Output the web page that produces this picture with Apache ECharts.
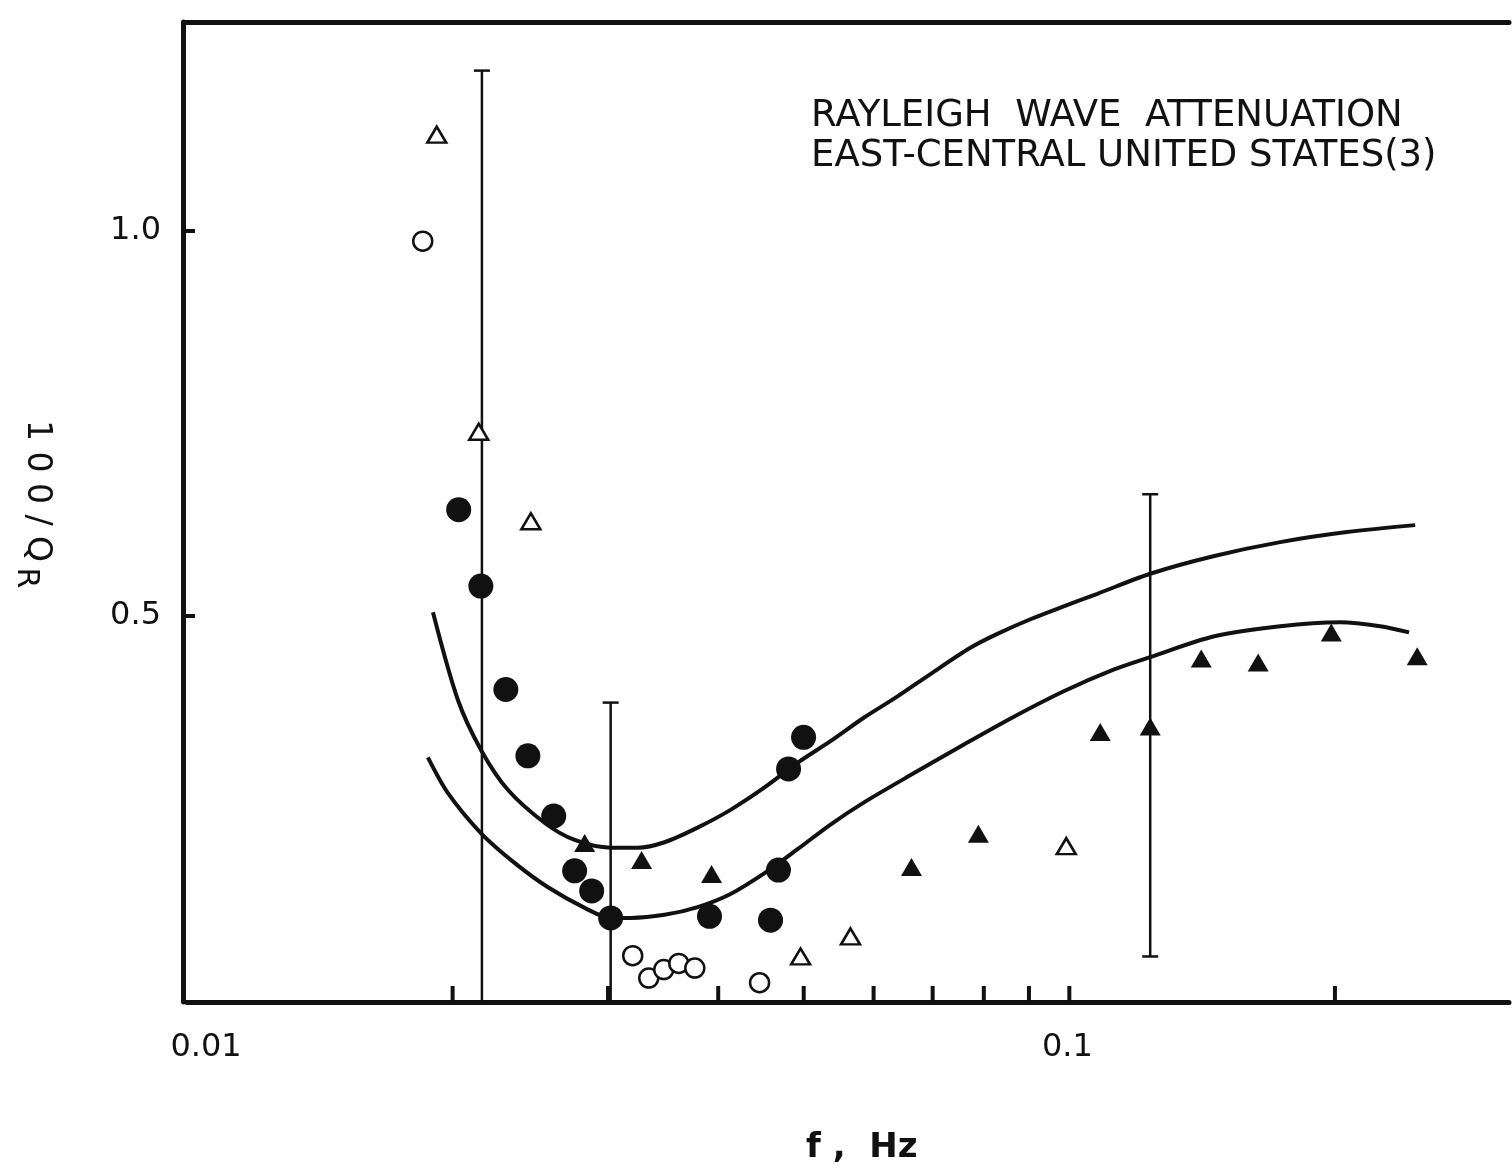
<!DOCTYPE html>
<html>
<head>
<meta charset="utf-8">
<title>Rayleigh wave attenuation</title>
<script src="https://cdn.jsdelivr.net/npm/echarts@6/dist/echarts.min.js"></script>
<style>
  html, body { margin: 0; padding: 0; background: #fff; }
  #chart { width: 1512px; height: 1173px; }
</style>
</head>
<body>
<div id="chart"></div>
<script>
// f (Hz), 100/QR
const openCircles = [
  [0.0185, 0.986], [0.0320, 0.060], [0.03337, 0.031], [0.0347, 0.042],
  [0.03609, 0.050], [0.03763, 0.044], [0.04456, 0.025]
];
const filledCircles = [
  [0.02032, 0.638], [0.02153, 0.539], [0.02298, 0.405], [0.02434, 0.319],
  [0.02604, 0.241], [0.0275, 0.170], [0.02875, 0.144], [0.03021, 0.109],
  [0.0391, 0.111], [0.04585, 0.106], [0.04681, 0.171], [0.04806, 0.302],
  [0.04998, 0.343]
];
const openTriangles = [
  [0.01919, 1.124], [0.02141, 0.739], [0.02453, 0.623], [0.04959, 0.059],
  [0.05649, 0.085], [0.0992, 0.202]
];
const filledTriangles = [
  [0.02823, 0.206], [0.03275, 0.184], [0.03931, 0.166], [0.06624, 0.175],
  [0.07887, 0.218], [0.1084, 0.350], [0.1235, 0.357], [0.1411, 0.445],
  [0.1637, 0.440], [0.1981, 0.479], [0.2479, 0.448]
];
// [f, low, high]
const errorBars = [
  [0.02159, 0, 1.207],
  [0.03021, 0, 0.388],
  [0.1235, 0.059, 0.658]
];
const upperCurve = [
  [0.019, 0.505], [0.02027, 0.392], [0.02153, 0.327], [0.0231, 0.275],
  [0.02544, 0.232], [0.0275, 0.210], [0.03021, 0.200], [0.03242, 0.200],
  [0.03477, 0.207], [0.03791, 0.226], [0.04131, 0.249], [0.04514, 0.278],
  [0.0492, 0.310], [0.05362, 0.338], [0.05859, 0.369], [0.06387, 0.396],
  [0.06959, 0.425], [0.07724, 0.459], [0.08287, 0.477], [0.09034, 0.496],
  [0.0987, 0.513], [0.1076, 0.529], [0.1235, 0.555], [0.146, 0.578],
  [0.1734, 0.596], [0.2064, 0.609], [0.2466, 0.618]
];
const lowerCurve = [
  [0.01875, 0.317], [0.01975, 0.271], [0.02153, 0.219], [0.02353, 0.180],
  [0.02563, 0.149], [0.02823, 0.122], [0.03021, 0.109], [0.03184, 0.109],
  [0.03477, 0.113], [0.03791, 0.123], [0.04131, 0.140], [0.04514, 0.167],
  [0.0492, 0.198], [0.05362, 0.230], [0.05859, 0.259], [0.06676, 0.297],
  [0.07604, 0.334], [0.08664, 0.370], [0.0987, 0.403], [0.1124, 0.431],
  [0.1235, 0.447], [0.146, 0.474], [0.1734, 0.487], [0.2027, 0.492],
  [0.225, 0.487], [0.2427, 0.479]
];
const xMinorTicks = [0.02, 0.03, 0.04, 0.05, 0.06, 0.07, 0.08, 0.09, 0.1, 0.2];

const INK = '#111';
const FONT = '"DejaVu Sans", sans-serif';

const chart = echarts.init(document.getElementById('chart'));

function errorBarItem(params, api) {
  const x = api.value(0);
  const lo = api.value(1);
  const hi = api.value(2);
  const top = api.coord([x, hi]);
  const bot = api.coord([x, lo]);
  const style = { stroke: INK, lineWidth: 2.5 };
  const children = [
    { type: 'line', shape: { x1: top[0], y1: top[1], x2: bot[0], y2: bot[1] }, style },
    { type: 'line', shape: { x1: top[0] - 8, y1: top[1], x2: top[0] + 8, y2: top[1] }, style }
  ];
  if (lo > 0) {
    children.push({ type: 'line', shape: { x1: bot[0] - 8, y1: bot[1], x2: bot[0] + 8, y2: bot[1] }, style });
  }
  return { type: 'group', children };
}

chart.setOption({
  backgroundColor: '#fff',
  animation: false,
  grid: { left: 187, right: 0, top: 22, bottom: 171 },
  xAxis: [
    {
      type: 'log',
      logBase: 10,
      min: 0.01,
      max: 0.315,
      axisLine: { lineStyle: { color: INK, width: 5 } },
      axisTick: { show: false },
      splitLine: { show: false },
      axisLabel: {
        margin: 30,
        color: INK,
        fontFamily: FONT,
        fontSize: 32,
        formatter: (v) => {
          if (Math.abs(v - 0.01) < 1e-6) return '{a|0.01}';
          if (Math.abs(v - 0.1) < 1e-6) return '{b|0.1}';
          return '';
        },
        rich: {
          a: { fontFamily: FONT, fontSize: 32, color: INK, padding: [0, 0, 0, 38] },
          b: { fontFamily: FONT, fontSize: 32, color: INK, padding: [0, 4, 0, 0] }
        }
      }
    },
    {
      type: 'log',
      logBase: 10,
      position: 'top',
      min: 0.01,
      max: 0.315,
      axisLine: { lineStyle: { color: INK, width: 5 } },
      axisTick: { show: false },
      axisLabel: { show: false },
      splitLine: { show: false }
    }
  ],
  yAxis: {
    type: 'value',
    min: 0,
    max: 1.27,
    interval: 0.5,
    offset: 4,
    axisLine: { show: true, lineStyle: { color: INK, width: 5 } },
    axisTick: { show: true, inside: true, length: 12, lineStyle: { color: INK, width: 4 } },
    splitLine: { show: false },
    axisLabel: {
      margin: 22,
      color: INK,
      fontFamily: FONT,
      fontSize: 32,
      formatter: (v) => (Math.abs(v - 0.5) < 1e-6 || Math.abs(v - 1) < 1e-6) ? v.toFixed(1) : ''
    }
  },
  graphic: [
    {
      type: 'text',
      left: 811,
      top: 96,
      style: {
        text: 'RAYLEIGH  WAVE  ATTENUATION\nEAST-CENTRAL UNITED STATES(3)',
        font: '37px "DejaVu Sans", sans-serif',
        fill: INK,
        lineHeight: 40
      }
    },
    {
      type: 'text',
      left: 806,
      top: 1131,
      style: {
        text: 'f ,  Hz',
        font: 'bold 34px "DejaVu Sans", sans-serif',
        fill: INK
      }
    },
    {
      type: 'text',
      x: 37,
      y: 491,
      rotation: -Math.PI / 2,
      style: {
        text: '1 0 0 / Q',
        font: '33px "DejaVu Sans", sans-serif',
        fill: INK,
        align: 'center',
        verticalAlign: 'middle'
      }
    },
    {
      type: 'text',
      x: 26,
      y: 578,
      rotation: -Math.PI / 2,
      style: {
        text: 'R',
        font: '30px "DejaVu Sans", sans-serif',
        fill: INK,
        align: 'center',
        verticalAlign: 'middle'
      }
    }
  ],
  series: [
    {
      type: 'line',
      data: upperCurve,
      smooth: 0.3,
      showSymbol: false,
      lineStyle: { color: INK, width: 4 },
      z: 2
    },
    {
      type: 'line',
      data: lowerCurve,
      smooth: 0.3,
      showSymbol: false,
      lineStyle: { color: INK, width: 4 },
      z: 2
    },
    {
      type: 'custom',
      renderItem: errorBarItem,
      encode: { x: 0, y: [1, 2] },
      data: errorBars,
      z: 3
    },
    {
      type: 'scatter',
      data: xMinorTicks.map((f) => [f, 0]),
      symbol: 'rect',
      symbolSize: [4, 16],
      symbolOffset: [0, -8],
      itemStyle: { color: INK, opacity: 1 },
      z: 4
    },
    {
      type: 'scatter',
      data: filledCircles,
      symbol: 'circle',
      symbolSize: 25,
      itemStyle: { color: INK, opacity: 1 },
      z: 5
    },
    {
      type: 'scatter',
      data: openCircles,
      symbol: 'circle',
      symbolSize: 19,
      itemStyle: { color: '#fff', borderColor: INK, borderWidth: 2.5, opacity: 1 },
      z: 5
    },
    {
      type: 'scatter',
      data: filledTriangles,
      symbol: 'triangle',
      symbolSize: [21, 18],
      itemStyle: { color: INK, opacity: 1 },
      z: 5
    },
    {
      type: 'scatter',
      data: openTriangles,
      symbol: 'triangle',
      symbolSize: [19, 16],
      itemStyle: { color: '#fff', borderColor: INK, borderWidth: 2.5, opacity: 1 },
      z: 5
    }
  ]
});
</script>
</body>
</html>
